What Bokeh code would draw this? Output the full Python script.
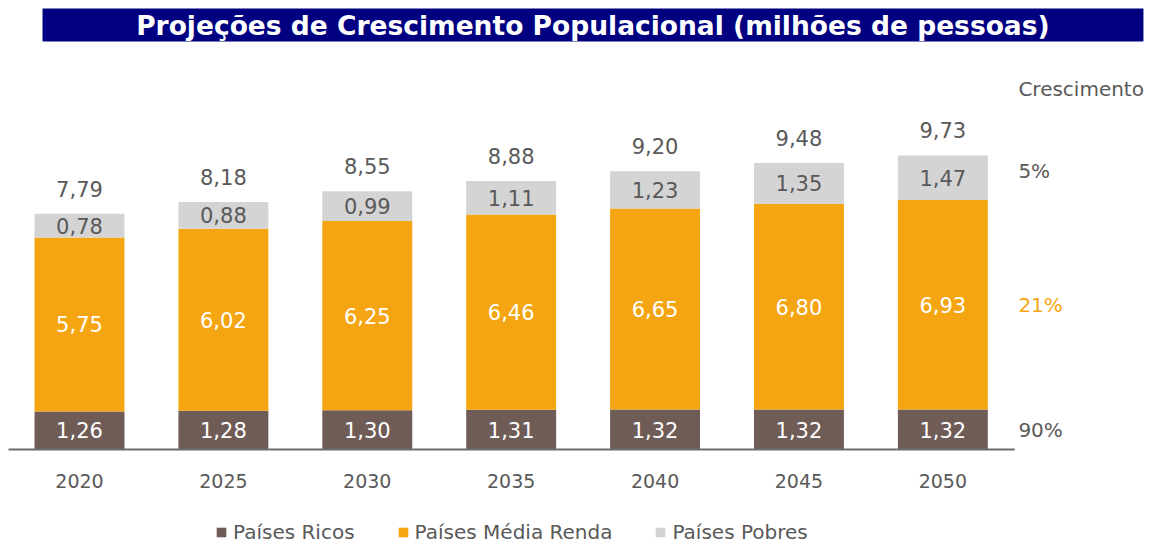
from bokeh.plotting import figure
from bokeh.models import (ColumnDataSource, Range1d, Legend, LegendItem,
                          BoxAnnotation, Label, LabelSet)
from bokeh.core.properties import value
from bokeh.embed import file_html
from bokeh.resources import INLINE

# ---------------- data ----------------
years = ["2020", "2025", "2030", "2035", "2040", "2045", "2050"]
ricos = [1.26, 1.28, 1.30, 1.31, 1.32, 1.32, 1.32]
media = [5.75, 6.02, 6.25, 6.46, 6.65, 6.80, 6.93]
pobres = [0.78, 0.88, 0.99, 1.11, 1.23, 1.35, 1.47]
totais = [7.79, 8.18, 8.55, 8.88, 9.20, 9.48, 9.73]
series_names = ["Países Ricos", "Países Média Renda", "Países Pobres"]
crescimento = ["90%", "21%", "5%"]   # ricos, média, pobres
titulo = "Projeções de Crescimento Populacional (milhões de pessoas)"

# ---------------- styles ----------------
C_RICOS = "#705C57"
C_MEDIA = "#F5A511"
C_POBRES = "#D4D4D4"
C_TEXT = "#595959"
C_AXIS = "#6B6B6B"
C_NAVY = "#000080"
FONT = "DejaVu Sans"

def fmt(v):
    return f"{v:.2f}".replace(".", ",")

x = list(range(len(years)))
src = ColumnDataSource(dict(
    x=x, ricos=ricos, media=media, pobres=pobres, years=years,
    zero=[0] * len(years),
    y_ricos=[r / 2 for r in ricos],
    y_media=[r + m / 2 for r, m in zip(ricos, media)],
    y_pobres=[r + m + p / 2 for r, m, p in zip(ricos, media, pobres)],
    y_tot=totais,
    l_ricos=[fmt(v) for v in ricos],
    l_media=[fmt(v) for v in media],
    l_pobres=[fmt(v) for v in pobres],
    l_tot=[fmt(v) for v in totais],
))

W, H = 1153, 546
p = figure(width=W, height=H, output_backend="svg", toolbar_location=None,
           x_range=Range1d(-0.549, 7.464), y_range=Range1d(-3.207, 14.843),
           x_axis_location=None, y_axis_location=None,
           min_border_left=0, min_border_right=0, min_border_top=0, min_border_bottom=0)
p.outline_line_color = None
p.grid.visible = False
p.background_fill_color = "white"

rs = p.vbar_stack(["ricos", "media", "pobres"], x="x", width=0.625,
                  color=[C_RICOS, C_MEDIA, C_POBRES], line_color=None, source=src)

# baseline (category axis line)
p.segment(x0=[x[0] - 0.493], x1=[x[-1] + 0.5], y0=[0], y1=[0],
          line_color=C_AXIS, line_width=2)

# category labels (years)
p.add_layout(LabelSet(x="x", y="zero", text="years", source=src, y_offset=-32,
                      text_align="center", text_baseline="middle",
                      text_font=value(FONT), text_font_size=value("19px"),
                      text_color=C_TEXT))

# value labels
common = dict(x="x", source=src, text_align="center", text_baseline="middle",
              text_font=value(FONT), text_font_size=value("21px"))
p.add_layout(LabelSet(y="y_ricos", text="l_ricos", text_color="white", **common))
p.add_layout(LabelSet(y="y_media", text="l_media", text_color="white", **common))
p.add_layout(LabelSet(y="y_pobres", text="l_pobres", text_color=C_TEXT, **common))
p.add_layout(LabelSet(y="y_tot", text="l_tot", text_color=C_TEXT, y_offset=25, **common))

# growth column on the right, aligned with the last bar's segments
last = len(years) - 1
xr = last + 0.525
seg_mid = [ricos[last] / 2, ricos[last] + media[last] / 2,
           ricos[last] + media[last] + pobres[last] / 2]
seg_col = [C_TEXT, C_MEDIA, C_TEXT]
seg_off = [0, 0, 7]
for txt, ym, col, off in zip(crescimento, seg_mid, seg_col, seg_off):
    p.add_layout(Label(x=xr, y=ym, text=txt, text_color=col, text_align="left",
                       text_baseline="middle", text_font=FONT, text_font_size="20px",
                       y_offset=off))
p.add_layout(Label(x=xr, y=11.93, text="Crescimento", text_color=C_TEXT,
                   text_align="left", text_baseline="middle", text_font=FONT,
                   text_font_size="20px"))

# title bar
p.add_layout(BoxAnnotation(left=-0.257, right=7.394, bottom=13.49, top=14.58,
                           fill_color=C_NAVY, fill_alpha=1, line_color=None))
p.add_layout(Label(x=3.568, y=14.03, text=titulo, text_color="white",
                   text_align="center", text_baseline="middle", text_font=FONT,
                   text_font_size="26.5px", text_font_style="bold"))

# legend
legend = Legend(items=[LegendItem(label=n, renderers=[r]) for n, r in zip(series_names, rs)],
                orientation="horizontal", location=(215, 2),
                glyph_width=12, glyph_height=12, label_standoff=6, spacing=42,
                padding=0, margin=0, border_line_color=None, background_fill_alpha=0,
                label_text_font=FONT, label_text_font_size="20px",
                label_text_color=C_TEXT, label_height=20)
p.add_layout(legend, "center")

open("out.html", "w").write(file_html(p, INLINE))
